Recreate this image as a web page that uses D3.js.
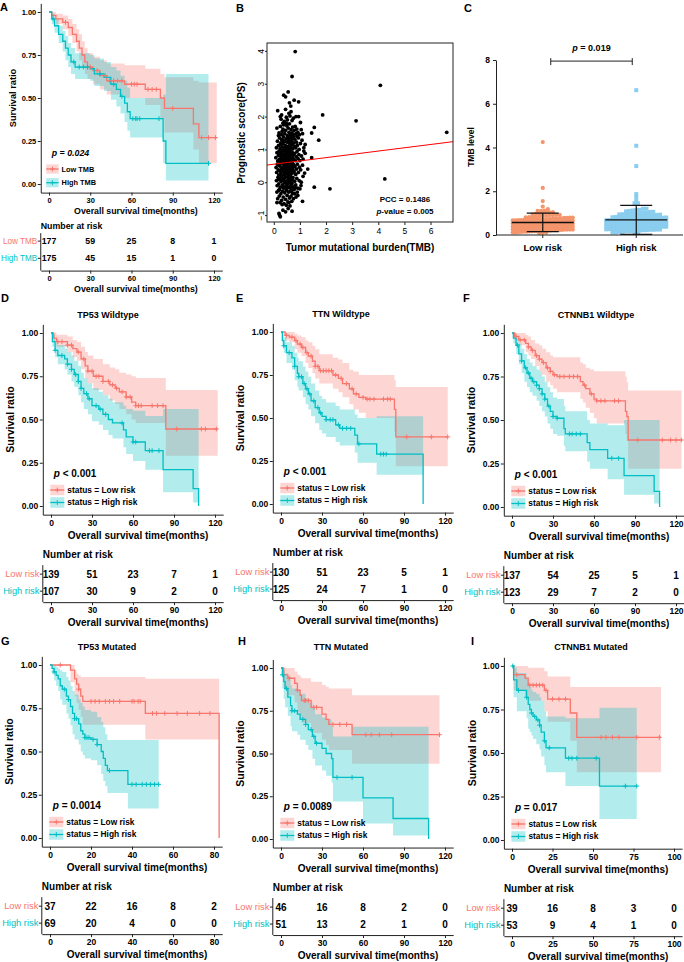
<!DOCTYPE html>
<html>
<head>
<meta charset="utf-8">
<script src="https://cdn.jsdelivr.net/npm/d3@7"></script>
<style>
body { margin: 0; background: #fff; }
svg { display: block; }
</style>
</head>
<body>
<script>
// ---------- data ----------
// B / C: one row per patient, [TMB, prognostic score]
var tmbPs = [
  [0.82,3.98],[0.70,3.22],[4.08,2.95],[3.15,1.87],[6.62,1.52],[4.25,0.10],[2.15,-0.20],[1.87,2.05],
  [1.72,1.28],[1.55,1.67],[1.55,-0.15],[1.45,0.75],[1.45,1.50],[1.30,0.40],[1.10,-0.58],[1.20,1.15],
  [1.15,0.95],[0.95,2.45],[0.78,2.50],[0.55,2.75],[0.60,2.42],[0.45,2.60],[0.38,2.65],[0.65,2.32],
  [0.15,2.18],[0.25,2.00],[0.12,-0.62],[0.20,-0.95],[0.22,-1.00],[0.25,-1.05],[0.45,-0.90],[0.55,-0.80],
  [0.70,-0.88],[0.62,-0.72],[0.35,-0.85],[0.80,-0.35],[1.00,-0.20],[0.92,-0.40],[1.05,0.00],
  [0.30,2.05],[0.48,1.98],[0.62,2.02],[0.85,2.00],[0.52,1.90],[0.40,1.85],[0.70,1.88],[0.95,2.00],
  [0.58,2.10],[0.35,1.80],[0.75,1.95],[0.28,1.92],[0.66,2.15],[0.45,2.22],[1.02,1.82],
  [0.12,1.65],[0.20,1.50],[0.25,1.70],[0.30,1.45],[0.35,1.62],[0.38,1.75],[0.42,1.48],[0.45,1.58],
  [0.50,1.72],[0.52,1.42],[0.55,1.65],[0.58,1.52],[0.60,1.78],[0.63,1.45],[0.66,1.60],[0.70,1.50],
  [0.72,1.68],[0.75,1.44],[0.78,1.58],[0.82,1.70],[0.85,1.48],[0.88,1.62],[0.92,1.52],[0.98,1.45],
  [1.05,1.60],[1.10,1.48],[0.18,1.42],[0.32,1.55],[0.48,1.80],[0.68,1.40],
  [0.10,1.05],[0.14,1.25],[0.18,1.12],[0.22,1.35],[0.24,1.02],[0.27,1.20],[0.30,1.30],[0.32,1.08],
  [0.35,1.18],[0.37,1.38],[0.40,1.02],[0.42,1.25],[0.44,1.12],[0.47,1.32],[0.49,1.05],[0.51,1.22],
  [0.53,1.38],[0.55,1.10],[0.57,1.28],[0.59,1.00],[0.61,1.18],[0.63,1.35],[0.65,1.08],[0.67,1.25],
  [0.69,1.15],[0.71,1.32],[0.73,1.02],[0.76,1.20],[0.79,1.10],[0.81,1.30],[0.84,1.05],[0.87,1.22],
  [0.90,1.12],[0.94,1.35],[0.97,1.00],[1.02,1.18],[1.08,1.28],[1.15,1.05],[0.26,1.15],[0.46,1.00],
  [0.56,1.34],[0.66,1.02],[0.75,1.38],[0.34,1.28],[0.88,1.40],
  [0.08,0.75],[0.12,0.90],[0.15,0.65],[0.18,0.82],[0.20,0.95],[0.22,0.70],[0.24,0.88],[0.26,0.62],
  [0.28,0.78],[0.30,0.92],[0.32,0.68],[0.34,0.85],[0.36,0.72],[0.38,0.98],[0.40,0.64],[0.41,0.80],
  [0.43,0.90],[0.45,0.70],[0.46,0.86],[0.48,0.62],[0.50,0.76],[0.51,0.94],[0.53,0.66],[0.54,0.84],
  [0.56,0.72],[0.58,0.90],[0.59,0.60],[0.61,0.80],[0.62,0.96],[0.64,0.68],[0.66,0.86],[0.68,0.74],
  [0.70,0.92],[0.72,0.64],[0.74,0.82],[0.77,0.70],[0.80,0.88],[0.83,0.66],[0.86,0.78],[0.89,0.94],
  [0.93,0.72],[0.96,0.84],[1.00,0.66],[1.06,0.80],[1.12,0.70],[1.20,0.88],[0.44,0.99],[0.57,0.61],
  [0.33,0.96],[0.49,0.88],[0.63,0.82],[0.71,0.76],[0.39,0.76],[0.27,0.84],[0.52,0.70],
  [0.09,0.45],[0.11,0.30],[0.14,0.55],[0.17,0.38],[0.19,0.22],[0.21,0.50],[0.23,0.35],[0.25,0.58],
  [0.27,0.28],[0.29,0.46],[0.31,0.20],[0.33,0.40],[0.35,0.56],[0.37,0.32],[0.39,0.48],[0.40,0.24],
  [0.42,0.42],[0.44,0.58],[0.46,0.30],[0.47,0.52],[0.49,0.26],[0.50,0.44],[0.52,0.36],[0.54,0.55],
  [0.55,0.22],[0.57,0.40],[0.59,0.50],[0.60,0.30],[0.62,0.46],[0.64,0.25],[0.65,0.58],[0.67,0.36],
  [0.69,0.50],[0.71,0.28],[0.73,0.44],[0.75,0.54],[0.78,0.32],[0.81,0.48],[0.84,0.24],[0.87,0.40],
  [0.90,0.55],[0.94,0.30],[0.98,0.46],[1.03,0.38],[1.10,0.52],[1.18,0.28],[0.36,0.44],[0.48,0.34],
  [0.58,0.27],[0.66,0.45],[0.43,0.52],[0.53,0.48],[0.28,0.38],[0.74,0.36],[0.61,0.56],
  [0.10,0.05],[0.13,-0.10],[0.16,0.15],[0.19,-0.05],[0.22,0.10],[0.25,-0.15],[0.28,0.02],[0.30,0.18],
  [0.33,-0.08],[0.35,0.08],[0.38,-0.18],[0.40,0.12],[0.42,-0.02],[0.45,0.16],[0.47,-0.12],[0.50,0.04],
  [0.52,-0.06],[0.55,0.14],[0.57,-0.16],[0.60,0.00],[0.62,0.10],[0.65,-0.10],[0.68,0.06],[0.70,-0.04],
  [0.73,0.15],[0.76,-0.14],[0.80,0.03],[0.84,-0.08],[0.88,0.12],[0.92,-0.18],[0.97,0.05],[1.04,-0.10],
  [1.12,0.18],[0.44,0.02],[0.58,0.08],[0.36,-0.12],[0.64,0.18],[0.26,0.12],[0.49,-0.18],[0.71,0.11],
  [0.18,0.08],[0.82,-0.16],[0.54,-0.02],[0.39,0.04],[0.67,-0.18],
  [0.12,-0.30],[0.15,-0.50],[0.18,-0.25],[0.21,-0.42],[0.24,-0.62],[0.27,-0.35],[0.30,-0.55],[0.33,-0.28],
  [0.36,-0.45],[0.39,-0.65],[0.42,-0.32],[0.45,-0.52],[0.48,-0.24],[0.51,-0.40],[0.54,-0.60],[0.57,-0.30],
  [0.60,-0.48],[0.63,-0.26],[0.66,-0.42],[0.69,-0.58],[0.72,-0.34],[0.75,-0.50],[0.78,-0.22],[0.85,-0.45],
  [0.90,-0.30],[0.32,-0.68],[0.48,-0.70],[0.58,-0.62],[0.22,-0.22],[0.68,-0.28]
];
var fitLine = [0.55, 0.10];          // intercept, slope of the red line in B
var bTicksX = [0, 1, 2, 3, 4, 5, 6];
var bTicksY = [-1, 0, 1, 2, 3, 4];
var riskGroups = ["Low risk", "High risk"];
var cTicksY = [0, 2, 4, 6, 8];

// Kaplan-Meier curves: [time, survival, lower, upper], step after
var aLow = [[0,1,1,1],[2,0.98,0.96,1],[5,0.96,0.93,0.99],[10,0.94,0.90,0.98],[14,0.91,0.86,0.96],[17,0.87,0.82,0.93],[20,0.83,0.77,0.90],[22,0.79,0.72,0.87],[24,0.75,0.68,0.83],[26,0.71,0.64,0.79],[28,0.68,0.61,0.76],[32,0.66,0.58,0.74],[37,0.63,0.55,0.72],[42,0.60,0.52,0.70],[55,0.58,0.50,0.69],[70,0.55,0.46,0.67],[81,0.50,0.38,0.64],[84,0.44,0.30,0.62],[105,0.35,0.20,0.60],[109,0.27,0.12,0.59],[122,0.27,0.12,0.59]];
var aHigh = [[0,1,1,1],[2,0.96,0.93,0.99],[4,0.92,0.88,0.96],[7,0.87,0.82,0.92],[10,0.83,0.77,0.89],[12,0.79,0.72,0.86],[14,0.75,0.68,0.82],[16,0.71,0.64,0.79],[19,0.68,0.61,0.76],[30,0.67,0.60,0.75],[33,0.64,0.57,0.73],[40,0.62,0.54,0.71],[45,0.58,0.49,0.68],[49,0.55,0.45,0.66],[52,0.51,0.41,0.63],[55,0.47,0.36,0.60],[57,0.42,0.31,0.56],[59,0.38,0.27,0.50],[83,0.25,0.12,0.52],[85,0.12,0.02,0.64],[116,0.12,0.02,0.64]];
var aLowCens = [12,30,35,41,44,47,50,53,60,62,64,72,75,78,90,111,116,121];
var aHighCens = [3,18,22,25,28,37,47,53,61,63,64,66,80,116];
var aLowRisk = [177,59,25,8,1], aHighRisk = [175,45,15,1,0];

var dLow = [[0,1,1,1],[2,0.97,0.95,1],[4,0.95,0.92,0.99],[12,0.93,0.89,0.98],[16,0.91,0.86,0.96],[19,0.89,0.84,0.95],[22,0.85,0.79,0.92],[25,0.81,0.74,0.89],[27,0.78,0.71,0.87],[31,0.75,0.67,0.85],[38,0.72,0.64,0.82],[43,0.70,0.61,0.80],[47,0.68,0.59,0.79],[50,0.66,0.56,0.77],[55,0.63,0.53,0.76],[59,0.60,0.50,0.75],[62,0.58,0.48,0.74],[84,0.445,0.29,0.67],[122,0.445,0.29,0.67]];
var dHigh = [[0,1,1,1],[1,0.95,0.92,0.99],[3,0.90,0.86,0.95],[5,0.87,0.82,0.93],[10,0.85,0.79,0.91],[12,0.82,0.76,0.89],[15,0.79,0.72,0.87],[17,0.76,0.69,0.84],[20,0.72,0.64,0.81],[22,0.68,0.60,0.77],[24,0.65,0.56,0.74],[27,0.62,0.53,0.71],[30,0.58,0.49,0.68],[35,0.56,0.47,0.66],[38,0.53,0.44,0.64],[42,0.50,0.41,0.62],[45,0.48,0.39,0.60],[53,0.44,0.34,0.58],[55,0.40,0.30,0.56],[60,0.37,0.26,0.55],[69,0.32,0.21,0.52],[82,0.21,0.08,0.56],[104,0.10,0.02,0.56],[108,0,0.02,0.56]];
var dLowCens = [5,8,12,15,20,24,27,30,33,35,38,42,45,48,52,55,58,62,64,66,74,78,82,92,110,113,121];
var dHighCens = [3,8,12,15,18,20,22,26,28,33,36,40,52,60,62,72,74,79];
var dLowRisk = [139,51,23,7,1], dHighRisk = [107,30,9,2,0];

var eLow = [[0,1,1,1],[3,0.98,0.95,1],[6,0.97,0.94,1],[10,0.95,0.90,0.99],[12,0.93,0.88,0.98],[15,0.91,0.86,0.97],[18,0.88,0.82,0.95],[20,0.86,0.79,0.94],[23,0.83,0.76,0.92],[25,0.80,0.73,0.90],[28,0.775,0.70,0.87],[38,0.75,0.67,0.85],[42,0.73,0.65,0.84],[45,0.70,0.62,0.82],[50,0.67,0.58,0.78],[53,0.64,0.55,0.77],[57,0.62,0.53,0.75],[62,0.61,0.50,0.75],[83,0.55,0.42,0.72],[84,0.39,0.22,0.68],[122,0.39,0.22,0.68]];
var eHigh = [[0,1,1,1],[1,0.95,0.92,0.99],[2,0.92,0.88,0.97],[4,0.88,0.82,0.94],[8,0.85,0.78,0.92],[10,0.80,0.72,0.88],[12,0.76,0.68,0.85],[13,0.74,0.66,0.83],[16,0.70,0.62,0.80],[18,0.67,0.58,0.77],[20,0.64,0.55,0.74],[22,0.60,0.51,0.70],[25,0.56,0.47,0.66],[28,0.53,0.43,0.63],[30,0.51,0.41,0.61],[33,0.49,0.39,0.59],[40,0.46,0.36,0.57],[43,0.44,0.34,0.55],[54,0.40,0.30,0.52],[56,0.35,0.24,0.50],[70,0.29,0.17,0.51],[104,0,0.17,0.51]];
var eLowCens = [4,8,11,14,16,19,22,25,27,29,31,33,35,37,40,44,48,52,55,60,63,65,68,75,78,80,92,110,122];
var eHighCens = [2,6,10,13,15,17,19,21,24,27,29,33,36,38,42,45,48,51,57,73,75,77];
var eLowRisk = [130,51,23,5,1], eHighRisk = [125,24,7,1,0];

var fLow = [[0,1,1,1],[2,0.98,0.96,1],[5,0.96,0.93,1],[10,0.94,0.89,0.99],[12,0.92,0.87,0.98],[14,0.90,0.85,0.96],[17,0.87,0.81,0.94],[20,0.85,0.78,0.93],[22,0.83,0.76,0.91],[25,0.80,0.72,0.89],[28,0.78,0.70,0.87],[30,0.76,0.68,0.86],[33,0.75,0.66,0.86],[50,0.72,0.62,0.83],[52,0.70,0.60,0.82],[54,0.68,0.57,0.80],[57,0.65,0.54,0.79],[60,0.62,0.51,0.78],[62,0.61,0.48,0.78],[83,0.55,0.42,0.75],[84,0.52,0.38,0.72],[85,0.385,0.22,0.67],[124,0.385,0.22,0.67]];
var fHigh = [[0,1,1,1],[1,0.97,0.94,1],[3,0.93,0.88,0.97],[5,0.88,0.82,0.94],[7,0.84,0.77,0.91],[9,0.80,0.72,0.88],[11,0.77,0.69,0.85],[13,0.74,0.66,0.83],[15,0.72,0.64,0.81],[18,0.70,0.61,0.79],[20,0.68,0.58,0.78],[22,0.65,0.55,0.75],[24,0.62,0.52,0.72],[26,0.58,0.48,0.69],[28,0.55,0.45,0.66],[30,0.52,0.42,0.63],[33,0.51,0.41,0.62],[38,0.45,0.35,0.58],[39,0.42,0.32,0.55],[55,0.37,0.26,0.50],[57,0.33,0.22,0.48],[70,0.28,0.16,0.47],[82,0.18,0.07,0.50],[104,0.09,0.02,0.50],[108,0,0.02,0.50]];
var fLowCens = [3,6,9,12,15,18,20,23,26,28,31,35,38,42,45,48,53,58,62,65,68,75,78,92,110,116,120,124];
var fHighCens = [4,7,10,12,14,16,18,20,22,24,27,30,33,42,44,47,50,73,78];
var fLowRisk = [137,54,25,5,1], fHighRisk = [123,29,7,2,0];

var gLow = [[0,1,1,1],[10,0.97,0.90,1],[12,0.92,0.82,0.97],[13,0.89,0.78,0.95],[14,0.86,0.74,0.94],[15,0.82,0.70,0.93],[16,0.79,0.655,0.93],[46.5,0.72,0.57,0.92],[82.5,0,0.57,0.92]];
var gHigh = [[0,1,1,1],[1,0.98,0.95,1],[2,0.96,0.91,1],[3,0.94,0.88,0.99],[4,0.92,0.85,0.98],[5,0.88,0.80,0.97],[6,0.86,0.77,0.96],[8,0.82,0.72,0.93],[9,0.80,0.69,0.91],[10,0.76,0.65,0.88],[11,0.72,0.60,0.85],[12,0.69,0.57,0.83],[14,0.66,0.54,0.80],[15,0.62,0.50,0.78],[16,0.60,0.48,0.76],[17,0.58,0.46,0.74],[20,0.57,0.45,0.73],[23,0.54,0.42,0.70],[25,0.50,0.37,0.67],[26,0.46,0.33,0.64],[27,0.42,0.30,0.60],[28,0.39,0.26,0.567],[38,0.31,0.17,0.567],[53,0.31,0.17,0.567]];
var gLowCens = [5,14,20,22,24,27,29,31,34,40,41,43,44,50,52,56,62,67,73,78];
var gHighCens = [2,7,9,12,13,17,18,19,21,23,29,40,42,45,47,49,51,53];
var gLowRisk = [37,22,16,8,2], gHighRisk = [69,20,4,0,0];

var hLow = [[0,1,1,1],[2,0.96,0.88,1],[5,0.94,0.84,1],[10,0.91,0.80,0.98],[12,0.87,0.74,0.96],[14,0.84,0.71,0.95],[15,0.81,0.68,0.94],[22,0.77,0.62,0.92],[30,0.73,0.58,0.90],[33,0.70,0.55,0.89],[35,0.67,0.52,0.88],[52,0.61,0.44,0.84],[116,0.61,0.44,0.84]];
var hHigh = [[0,1,1,1],[1,0.96,0.88,1],[2,0.92,0.82,0.99],[3,0.88,0.77,0.97],[5,0.83,0.72,0.95],[7,0.78,0.66,0.90],[8,0.75,0.63,0.88],[12,0.73,0.61,0.87],[14,0.70,0.58,0.85],[18,0.67,0.55,0.82],[20,0.64,0.52,0.80],[23,0.60,0.47,0.77],[25,0.56,0.43,0.73],[30,0.53,0.40,0.71],[33,0.50,0.37,0.70],[37,0.47,0.33,0.66],[38,0.36,0.22,0.60],[52,0.36,0.22,0.656],[60,0.24,0.09,0.656],[82,0.12,0.02,0.656],[108,0,0.02,0.656]];
var hLowCens = [6,12,17,18,20,24,26,38,43,48,62,66,72,81,116];
var hHighCens = [1,4,8,10,16,18,22,24,26,41,52];
var hLowRisk = [46,16,8,2,0], hHighRisk = [51,13,2,1,0];

var iLow = [[0,1,1,1],[1,0.95,0.86,1],[8,0.93,0.82,1],[10,0.89,0.80,0.99],[20,0.86,0.74,0.97],[22,0.81,0.68,0.94],[36,0.73,0.57,0.88],[40,0.59,0.39,0.88],[92,0.59,0.39,0.88]];
var iHigh = [[0,1,1,1],[1,0.92,0.82,0.99],[3,0.86,0.74,0.96],[9,0.82,0.70,0.93],[10,0.78,0.64,0.90],[11,0.75,0.62,0.88],[12,0.73,0.60,0.86],[13,0.71,0.58,0.85],[15,0.69,0.55,0.84],[17,0.66,0.52,0.82],[18,0.62,0.48,0.80],[20,0.57,0.43,0.74],[21,0.53,0.39,0.71],[33,0.47,0.31,0.70],[54,0.31,0.12,0.76],[77,0.31,0.12,0.76]];
var iLowCens = [3,11,13,15,17,19,21,25,29,33,55,58,62,66,77,91];
var iHighCens = [0.5,4,9,12,14,16,17,20,23,35,37,40,52,70,77];
var iLowRisk = [39,16,8,3,0], iHighRisk = [53,9,4,1,0];

var ticks120 = [0, 30, 60, 90, 120], ticks80 = [0, 20, 40, 60, 80], ticks100 = [0, 25, 50, 75, 100];
var statusNames = ["status = Low risk", "status = High risk"];

// ---------- drawing ----------
var RED = "#F8766D", TEAL = "#00BFC4", LOWC = "#F4956C", HIGHC = "#8ACDEE";
var FONT = "'Liberation Sans', Arial, Helvetica, sans-serif";

var svg = d3.select("body").append("svg")
    .attr("width", 684).attr("height", 962)
    .attr("font-family", FONT).attr("font-weight", "bold");

var offDefault = {xTitle: 24.5, num: 43.5, rows: [59.5, 76.5], tAxis: 87.5, tTitle: 111.5,
                  p: -29, leg: [-16, -3.5]};

function stepAt(steps, t) {
    var i = d3.bisector(function(d) { return d[0]; }).right(steps, t) - 1;
    return steps[Math.max(i, 0)][1];
}

function styleAxis(sel, size) {
    sel.attr("font-family", null).attr("font-size", size);
    sel.selectAll("line, path").attr("stroke", "#222");
    return sel;
}

function kmPanel(c) {
    var k = c.k || 1,
        o = c.off || offDefault,
        span = c.x1 - c.x0, vspan = c.y0 - c.y1,
        x = d3.scaleLinear().domain([-0.05 * c.tMax, 1.05 * c.tMax])
            .range([c.x0 - 0.05 * span, c.x1 + 0.05 * span]),
        y = d3.scaleLinear().domain([-0.05, 1.05])
            .range([c.y0 + 0.05 * vspan, c.y1 - 0.05 * vspan]),
        left = x.range()[0], right = x.range()[1], bottom = y.range()[0],
        g = svg.append("g");

    var groups = [
        {steps: c.low, cens: c.lowCens, risk: c.lowRisk, color: RED, name: c.names[0], row: c.rows[0]},
        {steps: c.high, cens: c.highCens, risk: c.highRisk, color: TEAL, name: c.names[1], row: c.rows[1]}
    ];

    g.append("text").attr("x", c.letter[1]).attr("y", c.letter[2])
        .attr("font-size", 11).text(c.letter[0]);
    if (c.title) {
        g.append("text").attr("x", c.title[1]).attr("y", c.title[2])
            .attr("text-anchor", "middle").attr("font-size", 9).text(c.title[0]);
    }

    var band = d3.area().curve(d3.curveStepAfter)
            .x(function(d) { return x(d[0]); })
            .y0(function(d) { return y(d[2]); })
            .y1(function(d) { return y(d[3]); }),
        line = d3.line().curve(d3.curveStepAfter)
            .x(function(d) { return x(d[0]); })
            .y(function(d) { return y(d[1]); });

    g.selectAll(".band").data(groups).enter()
        .append("path").attr("class", "band")
        .attr("d", function(d) { return band(d.steps); })
        .attr("fill", function(d) { return d.color; })
        .attr("fill-opacity", 0.3);

    g.selectAll(".curve").data(groups).enter()
        .append("path").attr("class", "curve")
        .attr("d", function(d) { return line(d.steps); })
        .attr("fill", "none")
        .attr("stroke", function(d) { return d.color; })
        .attr("stroke-width", 1.3);

    groups.forEach(function(gr) {
        g.selectAll(null).data(gr.cens).enter()
            .append("path")
            .attr("transform", function(t) { return "translate(" + x(t) + "," + y(stepAt(gr.steps, t)) + ")"; })
            .attr("d", "M-2.4,0H2.4M0,-2.4V2.4")
            .attr("stroke", gr.color).attr("stroke-width", 1);
    });

    // axes
    styleAxis(g.append("g").attr("transform", "translate(0," + bottom + ")")
        .call(d3.axisBottom(x).tickValues(c.ticks).tickSize(3).tickPadding(2).tickSizeOuter(0)), 8.5 * k);
    styleAxis(g.append("g").attr("transform", "translate(" + left + ",0)")
        .call(d3.axisLeft(y).tickValues([0, 0.25, 0.5, 0.75, 1]).tickFormat(d3.format(".2f"))
              .tickSize(3).tickPadding(1.5).tickSizeOuter(0)), 8.5 * k);

    g.append("text")
        .attr("transform", "translate(" + (left - 32 * k) + "," + y(0.5) + ") rotate(-90)")
        .attr("text-anchor", "middle").attr("dy", "0.35em")
        .attr("font-size", 10.5 * k).text("Survival ratio");
    g.append("text").attr("x", (left + right) / 2 + 5 * k).attr("y", bottom + o.xTitle)
        .attr("text-anchor", "middle").attr("font-size", 10 * k)
        .text("Overall survival time(months)");

    // p value and legend
    var pt = g.append("text").attr("x", left + 11).attr("y", c.y0 + o.p).attr("font-size", 10 * k);
    pt.append("tspan").attr("font-style", "italic").text("p");
    pt.append("tspan").attr("font-style", c.pItalic ? "italic" : null).text(c.pText);

    var kx = left + (c.legX || 7.5), kw = 14 * k, kh = 10.5 * k;
    groups.forEach(function(gr, i) {
        var ly = c.y0 + o.leg[i];
        g.append("rect").attr("x", kx).attr("y", ly - kh / 2).attr("width", kw).attr("height", kh)
            .attr("fill", gr.color).attr("fill-opacity", 0.3);
        g.append("line").attr("x1", kx).attr("x2", kx + kw).attr("y1", ly).attr("y2", ly)
            .attr("stroke", gr.color).attr("stroke-width", 1.3);
        g.append("path").attr("transform", "translate(" + (kx + kw / 2) + "," + ly + ")")
            .attr("d", "M-2.4,0H2.4M0,-2.4V2.4").attr("stroke", gr.color);
        g.append("text").attr("x", kx + kw + 3).attr("y", ly).attr("dy", "0.35em")
            .attr("font-size", 8.4 * k).text(gr.name);
    });

    // number at risk table
    var tb = bottom + o.tAxis;
    g.append("text").attr("x", left).attr("y", bottom + o.num)
        .attr("font-size", 10 * k).text("Number at risk");
    styleAxis(g.append("g").attr("transform", "translate(0," + tb + ")")
        .call(d3.axisBottom(x).tickValues(c.ticks).tickSize(3).tickPadding(2).tickSizeOuter(0)), 8.5 * k);
    g.append("line").attr("x1", left).attr("x2", left)
        .attr("y1", bottom + o.rows[0] - 9 * k).attr("y2", tb).attr("stroke", "#222");
    groups.forEach(function(gr, i) {
        var ry = bottom + o.rows[i];
        g.append("line").attr("x1", left - 3).attr("x2", left).attr("y1", ry).attr("y2", ry)
            .attr("stroke", "#222");
        g.append("text").attr("x", left - 3.5).attr("y", ry).attr("dy", "0.35em")
            .attr("text-anchor", "end").attr("font-weight", "normal")
            .attr("font-size", 9.3 * k).attr("fill", gr.color).text(gr.row);
        g.selectAll(null).data(gr.risk).enter().append("text")
            .attr("x", function(v, j) { return x(c.ticks[j]); })
            .attr("y", ry).attr("dy", "0.35em").attr("text-anchor", "middle")
            .attr("font-size", 10 * k).text(function(v) { return v; });
    });
    g.append("text").attr("x", (left + right) / 2 + 5 * k).attr("y", bottom + o.tTitle)
        .attr("text-anchor", "middle").attr("font-size", 10 * k)
        .text("Overall survival time(months)");
}

// ---- panel A ----
kmPanel({letter: ["A", 0, 11], tMax: 120, ticks: ticks120,
         x0: 49, x1: 214, y0: 184, y1: 12, k: 0.88, legX: 5.5,
         off: {xTitle: 21.5, num: 36.5, rows: [48.5, 65.7], tAxis: 78, tTitle: 99.5, p: -28, leg: [-15, -1.3]},
         low: aLow, high: aHigh, lowCens: aLowCens, highCens: aHighCens,
         lowRisk: aLowRisk, highRisk: aHighRisk, pText: " = 0.024", pItalic: true,
         names: ["Low TMB", "High TMB"], rows: ["Low TMB", "High TMB"]});

// ---- panel B ----
(function() {
    var g = svg.append("g"),
        x = d3.scaleLinear().domain([-0.26, 6.86]).range([267, 453]),
        y = d3.scaleLinear().domain([-1.21, 4.24]).range([222, 43]);

    g.append("text").attr("x", 236).attr("y", 12).attr("font-size", 11).text("B");

    g.append("clipPath").attr("id", "clipB").append("rect")
        .attr("x", 267).attr("y", 43).attr("width", 186).attr("height", 179);

    g.selectAll(".pt").data(tmbPs).enter().append("circle")
        .attr("cx", function(d) { return x(d[0]); })
        .attr("cy", function(d) { return y(d[1]); })
        .attr("r", 1.9).attr("fill", "#000");

    var xd = x.domain();
    g.append("line").attr("clip-path", "url(#clipB)")
        .attr("x1", x(xd[0])).attr("y1", y(fitLine[0] + fitLine[1] * xd[0]))
        .attr("x2", x(xd[1])).attr("y2", y(fitLine[0] + fitLine[1] * xd[1]))
        .attr("stroke", "#FF0000").attr("stroke-width", 1);

    g.append("rect").attr("x", 267).attr("y", 43).attr("width", 186).attr("height", 179)
        .attr("fill", "none").attr("stroke", "#222").attr("stroke-width", 1);

    var ax = styleAxis(g.append("g").attr("transform", "translate(0,222)")
        .call(d3.axisBottom(x).tickValues(bTicksX).tickFormat(d3.format("d"))
              .tickSize(3).tickPadding(3)), 8.5);
    ax.attr("font-weight", "normal").select(".domain").remove();
    var ay = styleAxis(g.append("g").attr("transform", "translate(267,0)")
        .call(d3.axisLeft(y).tickValues(bTicksY).tickFormat(d3.format("d")).tickSize(2)), 8.5);
    ay.attr("font-weight", "normal").select(".domain").remove();
    ay.selectAll("text").attr("transform", "rotate(-90)")
        .attr("x", 0).attr("y", -3).attr("dy", 0).attr("text-anchor", "middle");

    g.append("text").attr("x", 360).attr("y", 251).attr("text-anchor", "middle")
        .attr("font-size", 10).text("Tumor mutational burden(TMB)");
    g.append("text").attr("transform", "translate(241,133) rotate(-90)")
        .attr("text-anchor", "middle").attr("dy", "0.35em")
        .attr("font-size", 10).text("Prognostic score(PS)");

    g.append("text").attr("x", 405).attr("y", 202).attr("text-anchor", "middle")
        .attr("font-size", 8).text("PCC = 0.1486");
    var pv = g.append("text").attr("x", 405).attr("y", 214).attr("text-anchor", "middle")
        .attr("font-size", 8);
    pv.append("tspan").attr("font-style", "italic").text("p");
    pv.append("tspan").text("-value = 0.005");
})();

// ---- panel C ----
(function() {
    var g = svg.append("g"),
        y = d3.scaleLinear().domain([0, 8]).range([235, 60]),
        x = d3.scalePoint().domain(riskGroups).range([496, 683]).padding(0.5),
        cut = d3.median(tmbPs, function(d) { return d[1]; }),
        vals = [
            tmbPs.filter(function(d) { return d[1] < cut; }).map(function(d) { return d[0]; }),
            tmbPs.filter(function(d) { return d[1] >= cut; }).map(function(d) { return d[0]; })
        ];

    g.append("text").attr("x", 464).attr("y", 12).attr("font-size", 11).text("C");

    // scatter dot plot: bin into rows, spread each row around the group centre
    function swarm(list, cx) {
        var out = [],
            rows = d3.group(list, function(v) { return Math.round(y(v) / 3); });
        rows.forEach(function(row) {
            row.sort(d3.ascending);
            var n = row.length, step = n > 1 ? Math.min(3.4, 60 / (n - 1)) : 0;
            row.forEach(function(v, i) {
                out.push({x: cx + (i - (n - 1) / 2) * step, y: y(v)});
            });
        });
        return out;
    }

    var low = swarm(vals[0], x(riskGroups[0])), high = swarm(vals[1], x(riskGroups[1]));
    g.selectAll(".lo").data(low).enter().append("circle")
        .attr("cx", function(d) { return d.x; }).attr("cy", function(d) { return d.y; })
        .attr("r", 2.1).attr("fill", LOWC);
    g.selectAll(".hi").data(high).enter().append("rect")
        .attr("x", function(d) { return d.x - 2; }).attr("y", function(d) { return d.y - 2; })
        .attr("width", 4).attr("height", 4).attr("fill", HIGHC);

    vals.forEach(function(list, i) {
        var cx = x(riskGroups[i]), m = d3.mean(list), sd = d3.deviation(list),
            lo = Math.max(0, m - sd), hi = m + sd;
        g.append("line").attr("x1", cx - 31).attr("x2", cx + 31).attr("y1", y(m)).attr("y2", y(m))
            .attr("stroke", "#111").attr("stroke-width", 1.4);
        g.append("line").attr("x1", cx).attr("x2", cx).attr("y1", y(lo)).attr("y2", y(hi))
            .attr("stroke", "#111").attr("stroke-width", 1.2);
        [lo, hi].forEach(function(v) {
            g.append("line").attr("x1", cx - 16).attr("x2", cx + 16).attr("y1", y(v)).attr("y2", y(v))
                .attr("stroke", "#111").attr("stroke-width", 1.2);
        });
    });

    styleAxis(g.append("g").attr("transform", "translate(496,0)")
        .call(d3.axisLeft(y).tickValues(cTicksY).tickSize(3).tickPadding(3).tickSizeOuter(0)), 8.5);
    g.append("line").attr("x1", 496).attr("x2", 683).attr("y1", 235).attr("y2", 235)
        .attr("stroke", "#222").attr("stroke-width", 1.2);
    g.selectAll(".cat").data(riskGroups).enter().append("line")
        .attr("x1", function(d) { return x(d); }).attr("x2", function(d) { return x(d); })
        .attr("y1", 235).attr("y2", 238).attr("stroke", "#222");
    g.selectAll(".catlab").data(riskGroups).enter().append("text")
        .attr("x", function(d) { return x(d); }).attr("y", 251)
        .attr("text-anchor", "middle").attr("font-size", 9.5).text(function(d) { return d; });

    g.append("text").attr("transform", "translate(471,147) rotate(-90)")
        .attr("text-anchor", "middle").attr("dy", "0.35em")
        .attr("font-size", 8.5).text("TMB level");

    // significance bracket
    var bx0 = x(riskGroups[0]) + 8, bx1 = x(riskGroups[1]) - 4, by = y(7.95);
    g.append("path").attr("d", "M" + bx0 + "," + (by + 4) + "V" + (by - 3) + "M" + bx0 + "," + by +
                       "H" + bx1 + "M" + bx1 + "," + (by + 4) + "V" + (by - 3))
        .attr("fill", "none").attr("stroke", "#222").attr("stroke-width", 1);
    var pt = g.append("text").attr("x", (bx0 + bx1) / 2).attr("y", by - 10)
        .attr("text-anchor", "middle").attr("font-size", 9);
    pt.append("tspan").attr("font-style", "italic").text("p");
    pt.append("tspan").text(" = 0.019");
})();

// ---- panels D-I ----
kmPanel({letter: ["D", 1, 302], title: ["TP53 Wildtype", 108, 318], tMax: 120, ticks: ticks120,
         x0: 51, x1: 215, y0: 506, y1: 333,
         low: dLow, high: dHigh, lowCens: dLowCens, highCens: dHighCens,
         lowRisk: dLowRisk, highRisk: dHighRisk, pText: " < 0.001",
         names: statusNames, rows: riskGroups});
kmPanel({letter: ["E", 236, 302], title: ["TTN Wildtype", 341, 317], tMax: 120, ticks: ticks120,
         x0: 281, x1: 445, y0: 504, y1: 332,
         low: eLow, high: eHigh, lowCens: eLowCens, highCens: eHighCens,
         lowRisk: eLowRisk, highRisk: eHighRisk, pText: " < 0.001",
         names: statusNames, rows: riskGroups});
kmPanel({letter: ["F", 463, 302], title: ["CTNNB1 Wildtype", 596, 318], tMax: 120, ticks: ticks120,
         x0: 512, x1: 676, y0: 507, y1: 333,
         low: fLow, high: fHigh, lowCens: fLowCens, highCens: fHighCens,
         lowRisk: fLowRisk, highRisk: fHighRisk, pText: " < 0.001",
         names: statusNames, rows: riskGroups});
kmPanel({letter: ["G", 1, 645], title: ["TP53 Mutated", 107, 650], tMax: 80, ticks: ticks80,
         x0: 50, x1: 214, y0: 838, y1: 665,
         low: gLow, high: gHigh, lowCens: gLowCens, highCens: gHighCens,
         lowRisk: gLowRisk, highRisk: gHighRisk, pText: " = 0.0014",
         names: statusNames, rows: riskGroups});
kmPanel({letter: ["H", 238, 645], title: ["TTN Mutated", 341, 650], tMax: 120, ticks: ticks120,
         x0: 281, x1: 445, y0: 839, y1: 668,
         low: hLow, high: hHigh, lowCens: hLowCens, highCens: hHighCens,
         lowRisk: hLowRisk, highRisk: hHighRisk, pText: " = 0.0089",
         names: statusNames, rows: riskGroups});
kmPanel({letter: ["I", 471, 645], title: ["CTNNB1 Mutated", 591, 650], tMax: 100, ticks: ticks100,
         x0: 512, x1: 674, y0: 840, y1: 666,
         low: iLow, high: iHigh, lowCens: iLowCens, highCens: iHighCens,
         lowRisk: iLowRisk, highRisk: iHighRisk, pText: " = 0.017",
         names: statusNames, rows: riskGroups});
</script>
</body>
</html>
